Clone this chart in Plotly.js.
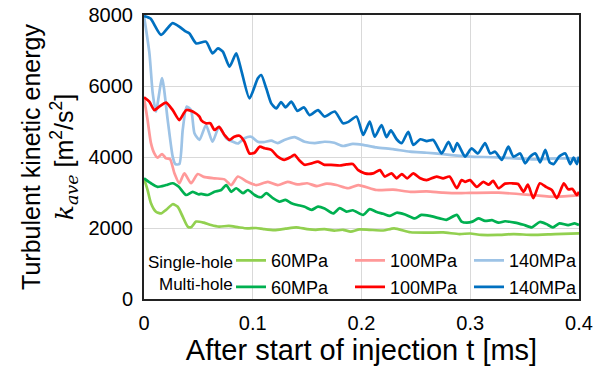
<!DOCTYPE html>
<html><head><meta charset="utf-8">
<script src="https://cdn.plot.ly/plotly-3.0.1.min.js"></script>
<style>html,body{margin:0;padding:0;background:#fff}#chart{width:608px;height:372px}</style>
</head><body><div id="chart"></div>
<script>
// Single-hole 60MPa
const tSh60 = [0,0.0033,0.0064,0.011,0.0157,0.0203,0.0264,0.031,0.0356,0.0402,0.0433,0.0479,0.055,0.0617,0.069,0.078,0.087,0.095,0.103,0.11,0.12,0.13,0.14,0.15,0.158,0.166,0.175,0.183,0.19,0.198,0.207,0.22,0.23,0.245,0.26,0.275,0.29,0.3,0.31,0.325,0.34,0.357,0.378,0.4];
const kSh60 = [3400,3070,2700,2460,2410,2510,2670,2600,2320,2040,2020,2180,2150,2085,2040,2060,2020,1990,2000,1970,1940,1980,2020,1970,1950,1970,1925,1950,1900,1960,1950,1930,1990,1880,1870,1875,1830,1845,1805,1805,1830,1805,1830,1850];
// Multi-hole 60MPa
const tMh60 = [0,0.0064,0.0125,0.0203,0.0264,0.032,0.0387,0.0448,0.05,0.0525,0.0586,0.0648,0.071,0.0756,0.0802,0.0848,0.091,0.0955,0.1017,0.1047,0.108,0.1124,0.1185,0.1247,0.13,0.1355,0.141,0.1477,0.154,0.16,0.166,0.174,0.18,0.186,0.192,0.2015,0.2076,0.214,0.22,0.226,0.2323,0.24,0.249,0.255,0.263,0.272,0.278,0.2876,0.292,0.297,0.302,0.3075,0.3136,0.32,0.326,0.332,0.341,0.349,0.3567,0.364,0.37,0.376,0.382,0.39,0.396,0.4];
const kMh60 = [3400,3260,3160,3210,3260,3160,2930,3020,2950,2960,2930,3020,3070,3210,3020,3120,2980,3070,2930,2880,2870,2980,2840,2740,2790,2700,2650,2600,2510,2600,2550,2410,2560,2460,2500,2370,2530,2450,2400,2340,2430,2380,2270,2370,2340,2270,2230,2370,2180,2150,2180,2270,2200,2220,2150,2190,2150,2090,2020,2170,2110,2020,2130,2080,2130,2085];
// Single-hole 100MPa
const tSh100 = [0,0.0033,0.0064,0.0095,0.0125,0.0166,0.0203,0.024,0.028,0.0325,0.0371,0.0433,0.0494,0.055,0.0648,0.074,0.0802,0.0863,0.095,0.1032,0.1139,0.123,0.132,0.141,0.15,0.159,0.168,0.177,0.1877,0.197,0.2138,0.229,0.245,0.26,0.275,0.29,0.3,0.326,0.3567,0.378,0.4];
const kSh100 = [5680,5040,4390,4100,3980,4085,3960,3940,3540,3260,3540,3260,3520,3440,3400,3370,3210,3450,3300,3210,3300,3210,3300,3230,3260,3180,3250,3210,3120,3210,3070,3080,3020,3030,2995,2980,2990,2995,2930,2880,2920];
// Multi-hole 100MPa
const tMh100 = [0,0.0049,0.0095,0.014,0.0203,0.0264,0.0325,0.0387,0.0448,0.051,0.0525,0.057,0.061,0.0648,0.069,0.074,0.0786,0.083,0.0878,0.0924,0.097,0.1017,0.1063,0.111,0.117,0.123,0.129,0.1355,0.1385,0.143,0.1477,0.154,0.16,0.166,0.172,0.18,0.186,0.192,0.197,0.203,0.2107,0.2169,0.2215,0.2276,0.2323,0.237,0.242,0.2476,0.254,0.26,0.269,0.275,0.281,0.2876,0.292,0.2952,0.2998,0.306,0.312,0.317,0.321,0.326,0.332,0.338,0.344,0.349,0.353,0.358,0.364,0.37,0.375,0.3797,0.386,0.39,0.394,0.398,0.4];
const kMh100 = [5680,5560,5320,5420,5530,5320,5040,5320,5280,5140,5040,4950,4950,4760,4850,4620,4480,4570,4600,4430,4100,4120,4290,4245,4200,4010,3920,4010,4060,3900,3780,3820,3870,3780,3780,3760,3790,3800,3630,3540,3540,3630,3450,3540,3400,3520,3400,3540,3400,3350,3450,3400,3450,3120,3350,3300,3350,3160,3300,3220,3330,3120,3250,3260,3240,3020,3220,2840,3260,3150,3070,2840,3260,3090,3100,2930,3020];
// Single-hole 140MPa
const tSh140 = [0,0.005,0.008,0.011,0.0166,0.0218,0.0264,0.0288,0.0325,0.0356,0.0393,0.0433,0.0464,0.051,0.057,0.063,0.069,0.0756,0.0817,0.0863,0.0924,0.0986,0.1047,0.11,0.117,0.123,0.129,0.1385,0.1477,0.157,0.166,0.175,0.183,0.192,0.2015,0.2138,0.229,0.2445,0.26,0.275,0.2906,0.2998,0.326,0.3567,0.38,0.4];
const kSh140 = [7970,6920,5800,5280,6220,5040,4010,3800,3800,4760,5420,5320,4670,4480,4900,4430,4850,4530,4430,4380,4530,4570,4430,4420,4460,4390,4480,4560,4430,4390,4430,4400,4310,4370,4340,4270,4220,4150,4120,4080,4030,4010,3990,3935,3960,3960];
// Multi-hole 140MPa
const tMh140 = [0,0.006,0.0157,0.0264,0.0387,0.0418,0.048,0.057,0.063,0.068,0.0725,0.0786,0.0848,0.0894,0.097,0.1047,0.1078,0.1124,0.117,0.1217,0.126,0.13,0.1355,0.141,0.147,0.1523,0.16,0.166,0.1754,0.183,0.188,0.1954,0.2015,0.2045,0.2076,0.2122,0.2184,0.223,0.227,0.2323,0.2369,0.243,0.2476,0.254,0.26,0.266,0.2737,0.28,0.2845,0.288,0.2952,0.2998,0.3014,0.307,0.3136,0.3183,0.3229,0.329,0.335,0.3397,0.3459,0.3505,0.355,0.36,0.3643,0.369,0.373,0.3766,0.382,0.3874,0.392,0.395,0.398,0.4];
const kMh140 = [7970,7900,7440,7770,7530,7480,7200,7250,6920,7060,6970,6545,6920,6450,5650,6220,6310,5935,5510,5370,5550,5400,5560,5300,5400,5180,5320,5140,5280,4950,4990,5140,4620,4800,5000,4570,4900,4560,4750,4500,4390,4710,4340,4500,4450,4480,4100,4430,4150,4390,4010,4200,4245,4100,4390,4100,4150,3920,4290,4010,4100,3820,4010,4100,3850,4200,3850,3800,4020,4100,3800,3980,3800,4010];

const seriesNames = ["60MPa","100MPa","140MPa","60MPa","100MPa","140MPa"];
const rowLabels = ["Single-hole","Multi-hole"];
const xTicks = [0,0.1,0.2,0.3,0.4];
const yTicks = [0,2000,4000,6000,8000];

const colors = ["#92D050","#FF9999","#9DC3E6","#00B050","#FF0000","#0070C0"];
const xs = [tSh60,tSh100,tSh140,tMh60,tMh100,tMh140];
const ys = [kSh60,kSh100,kSh140,kMh60,kMh100,kMh140];
const traces = [0,1,2,3,4,5].map(i => ({
  type:'scatter', mode:'lines', x: xs[i], y: ys[i], name: seriesNames[i],
  line:{color:colors[i], width:2.7, shape:'spline', smoothing:0.6},
  legendrank: i+1
}));
const FONT = "Liberation Sans, Arial, sans-serif";
const layout = {
  width:608, height:372,
  margin:{l:144, r:29, t:15, b:73},
  paper_bgcolor:'#fff', plot_bgcolor:'#fff',
  font:{family:FONT, color:'#000'},
  showlegend:true,
  legend:{orientation:'h', x:0.2, y:0.2, xanchor:'left', yanchor:'top',
    bgcolor:'rgba(0,0,0,0)', font:{size:18, family:FONT},
    entrywidth:74, entrywidthmode:'pixels', tracegroupgap:0, itemwidth:30, traceorder:'normal'},
  xaxis:{range:[0,0.4], tickvals:xTicks, ticktext:xTicks.map(String), showgrid:true, gridcolor:'#D9D9D9', gridwidth:1,
    zeroline:false, showline:true, linecolor:'#222', linewidth:2, mirror:true, ticks:'', automargin:false,
    tickfont:{size:20, family:FONT}, ticklabelstandoff:5,
    title:{text:'After start of injection t [ms]', font:{size:29, family:FONT}, standoff:1}},
  yaxis:{range:[0,8000], tickvals:yTicks, ticktext:yTicks.map(String), showgrid:true, gridcolor:'#D9D9D9', gridwidth:1,
    zeroline:false, showline:true, linecolor:'#222', linewidth:2, mirror:true, ticks:'', automargin:false,
    tickfont:{size:20, family:FONT}, ticklabelstandoff:5,
    title:{text:'Turbulent kinetic energy<br><span style="font-family:DejaVu Serif"><i>k</i><sub><i>ave</i></sub></span> [m<sup>2</sup>/s<sup>2</sup>]', font:{size:25, family:FONT}, standoff:8}},
  annotations:[
    {xref:'paper', yref:'paper', x:0.21, y:0.128, xanchor:'right', yanchor:'middle', text:rowLabels[0], showarrow:false, font:{size:17, family:FONT}},
    {xref:'paper', yref:'paper', x:0.21, y:0.05, xanchor:'right', yanchor:'middle', text:rowLabels[1], showarrow:false, font:{size:17, family:FONT}}
  ]
};
Plotly.newPlot('chart', traces, layout, {staticPlot:true, displayModeBar:false});
</script></body></html>
